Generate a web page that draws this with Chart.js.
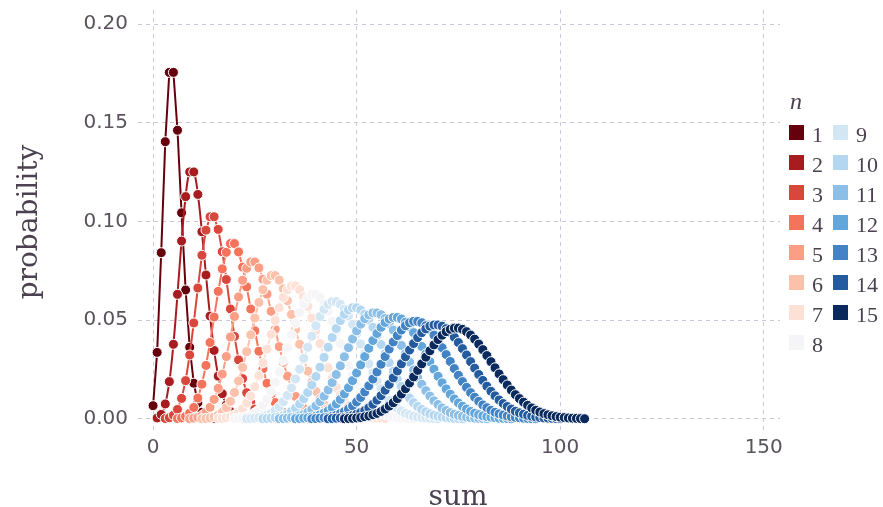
<!DOCTYPE html>
<html>
<head>
<meta charset="utf-8">
<script src="https://cdn.jsdelivr.net/npm/chart.js@4"></script>
<style>
  html, body { margin: 0; padding: 0; background: #fff; }
  canvas { display: block; }
</style>
</head>
<body>
<canvas id="dist" width="883" height="507"></canvas>
<script>
"use strict";

// legend labels (n) and the first "sum" value of each series
var seriesNames = ['1', '2', '3', '4', '5', '6', '7', '8', '9', '10', '11', '12', '13', '14', '15'];
var sumStart = [0, 1, 3, 6, 9, 12, 16, 20, 23, 27, 31, 35, 39, 43, 47];
var seriesColors = ['#67000d', '#a61c1f', '#d9473c', '#f5725b', '#fb9e85', '#fcc1ab', '#fde1d7', '#f5f5f7',
  '#d2e6f4', '#b3d7f1', '#8bbfe7', '#62a6dc', '#4183c5', '#245b9f', '#0a2a5d'];

var xTicks = [0, 50, 100, 150];
var yTicks = [0, 0.05, 0.10, 0.15, 0.20];

// probabilities, one value per integer sum
var probN1 = [0.0067, 0.0337, 0.0842, 0.1404, 0.1755, 0.1755, 0.1462, 0.1044, 0.0653, 0.0363, 0.0181, 0.0082, 0.0034, 0.0013, 0.0005, 0.0002];
var probN2 = [0.0005, 0.0023, 0.0076, 0.0189, 0.0378, 0.0631, 0.0901, 0.1126, 0.1251, 0.1251, 0.1137, 0.0948, 0.0729, 0.0521, 0.0347, 0.0217, 0.0128, 0.0071, 0.0037, 0.0019, 0.0009, 0.0004, 0.0002];
var probN3 = [0.0002, 0.0006, 0.0019, 0.0048, 0.0104, 0.0194, 0.0324, 0.0486, 0.0663, 0.0829, 0.0956, 0.1024, 0.1024, 0.0960, 0.0847, 0.0706, 0.0557, 0.0418, 0.0299, 0.0204, 0.0133, 0.0083, 0.0050, 0.0029, 0.0016, 0.0009, 0.0004, 0.0002, 0.0001];
var probN4 = [0.0002, 0.0005, 0.0013, 0.0029, 0.0058, 0.0106, 0.0176, 0.0271, 0.0387, 0.0516, 0.0646, 0.0760, 0.0844, 0.0888, 0.0888, 0.0846, 0.0769, 0.0669, 0.0557, 0.0446, 0.0343, 0.0254, 0.0181, 0.0125, 0.0083, 0.0054, 0.0034, 0.0020, 0.0012, 0.0007, 0.0004, 0.0002, 0.0001];
var probN5 = [0.0001, 0.0004, 0.0008, 0.0017, 0.0033, 0.0059, 0.0099, 0.0155, 0.0227, 0.0316, 0.0415, 0.0519, 0.0618, 0.0702, 0.0763, 0.0795, 0.0795, 0.0765, 0.0708, 0.0632, 0.0545, 0.0454, 0.0366, 0.0286, 0.0217, 0.0159, 0.0114, 0.0079, 0.0053, 0.0035, 0.0023, 0.0014, 0.0009, 0.0005, 0.0003, 0.0002];
var probN6 = [0.0001, 0.0002, 0.0005, 0.0010, 0.0019, 0.0034, 0.0057, 0.0089, 0.0134, 0.0192, 0.0261, 0.0341, 0.0426, 0.0511, 0.0590, 0.0655, 0.0702, 0.0726, 0.0726, 0.0703, 0.0659, 0.0599, 0.0529, 0.0453, 0.0378, 0.0306, 0.0242, 0.0186, 0.0139, 0.0102, 0.0073, 0.0051, 0.0035, 0.0023, 0.0015, 0.0010, 0.0006, 0.0004, 0.0002, 0.0001];
var probN7 = [0.0002, 0.0003, 0.0006, 0.0011, 0.0020, 0.0033, 0.0052, 0.0080, 0.0116, 0.0163, 0.0219, 0.0284, 0.0354, 0.0428, 0.0499, 0.0563, 0.0616, 0.0654, 0.0673, 0.0673, 0.0654, 0.0619, 0.0570, 0.0511, 0.0448, 0.0382, 0.0318, 0.0259, 0.0206, 0.0160, 0.0122, 0.0091, 0.0066, 0.0047, 0.0033, 0.0023, 0.0015, 0.0010, 0.0007, 0.0004, 0.0003, 0.0002];
var probN8 = [0.0002, 0.0004, 0.0007, 0.0012, 0.0019, 0.0031, 0.0047, 0.0070, 0.0100, 0.0139, 0.0185, 0.0238, 0.0298, 0.0361, 0.0425, 0.0485, 0.0539, 0.0583, 0.0614, 0.0630, 0.0630, 0.0614, 0.0585, 0.0544, 0.0495, 0.0440, 0.0382, 0.0325, 0.0271, 0.0221, 0.0177, 0.0139, 0.0107, 0.0081, 0.0060, 0.0043, 0.0031, 0.0022, 0.0015, 0.0010, 0.0007, 0.0004, 0.0003, 0.0002, 0.0001];
var probN9 = [0.0001, 0.0002, 0.0004, 0.0007, 0.0011, 0.0018, 0.0028, 0.0043, 0.0062, 0.0087, 0.0119, 0.0157, 0.0202, 0.0252, 0.0307, 0.0363, 0.0419, 0.0472, 0.0518, 0.0555, 0.0580, 0.0594, 0.0594, 0.0581, 0.0556, 0.0521, 0.0479, 0.0431, 0.0380, 0.0329, 0.0279, 0.0233, 0.0191, 0.0153, 0.0121, 0.0094, 0.0072, 0.0054, 0.0040, 0.0029, 0.0021, 0.0014, 0.0010, 0.0007, 0.0005, 0.0003, 0.0002, 0.0001];
var probN10 = [0.0001, 0.0002, 0.0004, 0.0007, 0.0011, 0.0017, 0.0026, 0.0038, 0.0054, 0.0076, 0.0102, 0.0134, 0.0172, 0.0215, 0.0262, 0.0312, 0.0363, 0.0412, 0.0458, 0.0498, 0.0530, 0.0552, 0.0563, 0.0563, 0.0552, 0.0531, 0.0501, 0.0464, 0.0422, 0.0377, 0.0330, 0.0285, 0.0241, 0.0201, 0.0165, 0.0133, 0.0106, 0.0082, 0.0063, 0.0048, 0.0036, 0.0026, 0.0019, 0.0014, 0.0010, 0.0007, 0.0005, 0.0003, 0.0002, 0.0001];
var probN11 = [0.0001, 0.0002, 0.0004, 0.0007, 0.0010, 0.0016, 0.0023, 0.0034, 0.0048, 0.0066, 0.0088, 0.0115, 0.0147, 0.0184, 0.0225, 0.0269, 0.0315, 0.0361, 0.0405, 0.0446, 0.0480, 0.0508, 0.0527, 0.0537, 0.0537, 0.0528, 0.0509, 0.0483, 0.0450, 0.0413, 0.0372, 0.0330, 0.0288, 0.0248, 0.0209, 0.0175, 0.0143, 0.0116, 0.0092, 0.0073, 0.0056, 0.0043, 0.0032, 0.0024, 0.0018, 0.0013, 0.0009, 0.0006, 0.0004, 0.0003, 0.0002, 0.0001];
var probN12 = [0.0001, 0.0002, 0.0004, 0.0006, 0.0010, 0.0014, 0.0021, 0.0030, 0.0042, 0.0057, 0.0076, 0.0099, 0.0127, 0.0158, 0.0194, 0.0233, 0.0274, 0.0316, 0.0358, 0.0397, 0.0433, 0.0464, 0.0489, 0.0506, 0.0514, 0.0514, 0.0506, 0.0490, 0.0466, 0.0437, 0.0404, 0.0367, 0.0329, 0.0290, 0.0252, 0.0216, 0.0183, 0.0152, 0.0125, 0.0101, 0.0081, 0.0064, 0.0050, 0.0038, 0.0029, 0.0022, 0.0016, 0.0012, 0.0009, 0.0006, 0.0004, 0.0003, 0.0002, 0.0001];
var probN13 = [0.0001, 0.0002, 0.0004, 0.0006, 0.0009, 0.0013, 0.0019, 0.0027, 0.0037, 0.0050, 0.0066, 0.0086, 0.0109, 0.0137, 0.0168, 0.0202, 0.0238, 0.0277, 0.0316, 0.0354, 0.0390, 0.0422, 0.0450, 0.0472, 0.0487, 0.0494, 0.0494, 0.0487, 0.0472, 0.0451, 0.0425, 0.0395, 0.0361, 0.0326, 0.0291, 0.0255, 0.0221, 0.0189, 0.0160, 0.0133, 0.0110, 0.0089, 0.0071, 0.0057, 0.0044, 0.0034, 0.0026, 0.0020, 0.0015, 0.0011, 0.0008, 0.0006, 0.0004, 0.0003, 0.0002, 0.0001];
var probN14 = [0.0001, 0.0002, 0.0004, 0.0005, 0.0008, 0.0012, 0.0017, 0.0024, 0.0032, 0.0043, 0.0057, 0.0074, 0.0095, 0.0118, 0.0145, 0.0175, 0.0208, 0.0243, 0.0279, 0.0315, 0.0349, 0.0382, 0.0412, 0.0437, 0.0456, 0.0470, 0.0476, 0.0476, 0.0470, 0.0457, 0.0438, 0.0414, 0.0387, 0.0356, 0.0324, 0.0290, 0.0257, 0.0225, 0.0195, 0.0166, 0.0140, 0.0117, 0.0096, 0.0078, 0.0063, 0.0050, 0.0039, 0.0031, 0.0024, 0.0018, 0.0014, 0.0010, 0.0007, 0.0005, 0.0004, 0.0003, 0.0002, 0.0001];
var probN15 = [0.0001, 0.0002, 0.0003, 0.0005, 0.0007, 0.0011, 0.0015, 0.0021, 0.0028, 0.0038, 0.0050, 0.0065, 0.0082, 0.0103, 0.0126, 0.0153, 0.0182, 0.0213, 0.0246, 0.0279, 0.0313, 0.0345, 0.0375, 0.0402, 0.0424, 0.0442, 0.0454, 0.0460, 0.0460, 0.0454, 0.0442, 0.0425, 0.0404, 0.0379, 0.0351, 0.0321, 0.0290, 0.0259, 0.0228, 0.0199, 0.0172, 0.0146, 0.0123, 0.0103, 0.0085, 0.0069, 0.0056, 0.0044, 0.0035, 0.0027, 0.0021, 0.0016, 0.0012, 0.0009, 0.0007, 0.0005, 0.0004, 0.0003, 0.0002, 0.0001];

var allProbs = [probN1, probN2, probN3, probN4, probN5, probN6, probN7, probN8,
  probN9, probN10, probN11, probN12, probN13, probN14, probN15];

var textColor = '#5a525c';
var titleColor = '#4b4150';
var gridColor = '#cac8db';

var datasets = allProbs.map(function (vals, i) {
  return {
    label: seriesNames[i],
    data: vals.map(function (p, k) { return { x: sumStart[i] + k, y: p }; }),
    borderColor: seriesColors[i],
    backgroundColor: seriesColors[i],
    pointBackgroundColor: seriesColors[i],
    pointBorderColor: '#ffffff',
    pointBorderWidth: 1,
    pointRadius: 5,
    borderWidth: 2,
    tension: i === 1 ? 0.4 : 0,
    order: allProbs.length - i   // later n drawn on top
  };
});

// axis titles + the two-column legend
var decorations = {
  id: 'decorations',
  afterDraw: function (chart) {
    var c = chart.ctx;
    c.save();
    c.fillStyle = titleColor;
    c.font = '28px "DejaVu Serif"';
    c.textAlign = 'center';
    c.textBaseline = 'alphabetic';
    c.fillText('sum', 458, 505);

    c.save();
    c.translate(37, 222);
    c.rotate(-Math.PI / 2);
    c.fillText('probability', 0, 0);
    c.restore();

    c.textAlign = 'left';
    c.font = 'italic 24px "Liberation Serif"';
    c.fillText('n', 790, 109);

    c.font = '22px "Liberation Serif"';
    seriesNames.forEach(function (name, i) {
      var col = i < 8 ? 0 : 1;
      var row = i < 8 ? i : i - 8;
      var x = 789 + col * 44;
      var y = 125 + row * 30;
      c.fillStyle = seriesColors[i];
      c.fillRect(x, y, 15, 15);
      c.fillStyle = titleColor;
      c.fillText(name, x + 23, y + 17);
    });
    c.restore();
  }
};

var ctx = document.getElementById('dist');
var distChart = new Chart(ctx, {
  type: 'line',
  data: { datasets: datasets },
  options: {
    responsive: false,
    animation: false,
    layout: { padding: { top: 10, right: 103, left: 0, bottom: 0 } },
    plugins: {
      legend: { display: false },
      tooltip: { enabled: false }
    },
    scales: {
      x: {
        type: 'linear',
        bounds: 'data',
        min: -3.7,
        max: 154,
        afterFit: function (s) { s.height = 77; s.paddingLeft = 0; s.paddingRight = 0; },
        afterBuildTicks: function (s) { s.ticks = xTicks.map(function (v) { return { value: v }; }); },
        ticks: {
          padding: 6,
          maxRotation: 0,
          color: textColor,
          font: { family: 'DejaVu Sans', size: 20 }
        },
        grid: { color: gridColor, lineWidth: 1, drawTicks: false },
        border: { display: false, dash: [4, 4] }
      },
      y: {
        type: 'linear',
        bounds: 'data',
        min: -0.0056,
        max: 0.2071,
        afterFit: function (s) { s.width = 138; s.paddingTop = 0; s.paddingBottom = 0; },
        afterBuildTicks: function (s) { s.ticks = yTicks.map(function (v) { return { value: v }; }); },
        ticks: {
          padding: 10,
          color: textColor,
          font: { family: 'DejaVu Sans', size: 20 },
          callback: function (v) { return v.toFixed(2); }
        },
        grid: { color: gridColor, lineWidth: 1, drawTicks: false },
        border: { display: false, dash: [4, 4] }
      }
    }
  },
  plugins: [decorations]
});
</script>
</body>
</html>
